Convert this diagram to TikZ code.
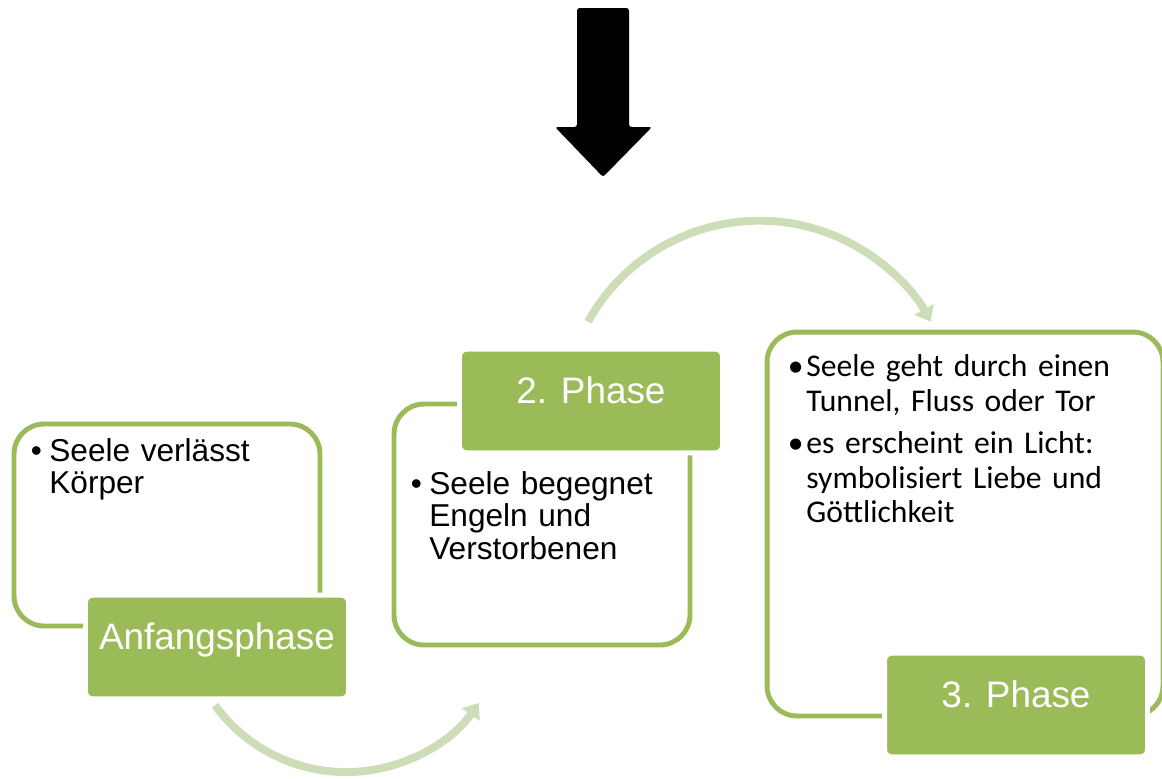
\documentclass[tikz,border=0pt]{standalone}
\usepackage{fontspec}
\setmainfont{Liberation Sans}
\newfontfamily\calibri{Carlito}
\usepackage{xcolor}
\usetikzlibrary{positioning,arrows.meta,calc}

\definecolor{phasegreen}{HTML}{9BBB59}
\definecolor{flowgreen}{HTML}{CDDDB7}
\newcommand\bul{\par\hangindent=10.5pt\hangafter=1\noindent\makebox[10.5pt][l]{\textbullet}}
\newcommand\nl{\hfil\break}

\begin{document}
\begin{tikzpicture}[x=0.02cm,y=-0.02cm,
    outline/.style={draw=phasegreen,line width=2.8pt,rounded corners=0.6cm,fill=white},
    phase/.style={draw=white,line width=2.8pt,fill=phasegreen,rounded corners=4pt,text=white,
      font=\fontsize{21pt}{24pt}\selectfont,inner sep=0pt,minimum width=5.26cm,
      text height=31pt,text depth=28pt},
    bullets/.style={anchor=north west,inner sep=0pt,
      font=\fontsize{18pt}{18.5pt}\selectfont},
    flow/.style={draw=flowgreen,line width=4.5pt,-{Triangle[width=12pt,length=8pt]}}]
      \clip (0,0) rectangle (1162,778);
      % big arrow on top
      \fill[black,rounded corners=1.5pt] (577,8) -- (629,8) -- (629,127) -- (652,127)
        -- (603,177) -- (555,127) -- (577,127) -- cycle;
      % frames
      \node[outline,minimum width=6.12cm,minimum height=4.04cm] (box1) at (167,525) {};
      \node[outline,minimum width=5.92cm,minimum height=4.82cm] (box2) at (542,524.5) {};
      \node[outline,minimum width=7.92cm,minimum height=7.68cm] (box3) at (965,524) {};
      % phase labels
      \node[phase] (lbl1) at (217,647) {Anfangsphase};
      \node[phase] (lbl2) at (591,401) {2. Phase};
      \node[phase] (lbl3) at (1016,705) {3. Phase};
      % texts
      \node[bullets,text width=5.6cm] (txt1) at ([shift={(19,7)}]box1.north west)
        {\bul Seele verlässt\nl Körper\par};
      \node[bullets,text width=5.4cm] (txt2) at ([shift={(19,60)}]box2.north west)
        {\bul Seele begegnet\nl Engeln und\nl Verstorbenen\par};
      \node[bullets,text width=7.4cm,font=\calibri\fontsize{18pt}{19.8pt}\selectfont] (txt3)
        at ([shift={(23,5)}]box3.north west)
        {\setlength\parskip{4pt}\bul Seele geht durch einen\nl Tunnel, Fluss oder Tor
         \bul es erscheint ein Licht:\nl symbolisiert Liebe und\nl Göttlichkeit\par};
      % flow arrows
      \draw[flow] ([shift={(-2,4)}]lbl1.south) arc[start angle=144,end angle=35,radius=162];
      \draw[flow] ([shift={(-3,-25)}]lbl2.north) arc[start angle=209,end angle=331,radius=196];
    \end{tikzpicture}
\end{document}
